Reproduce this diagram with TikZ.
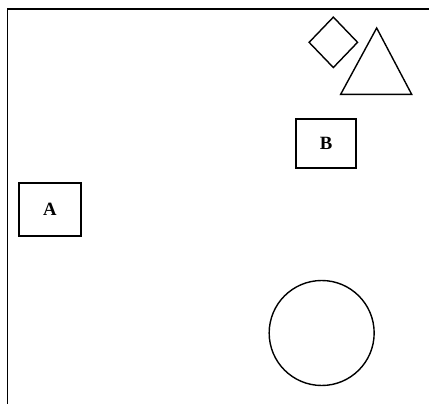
\documentclass[tikz,border=0pt]{standalone}
\usepackage{fontspec}
\setmainfont{Liberation Serif}
\usetikzlibrary{shapes.geometric}
\tikzset{
  labelbox/.style={draw, line width=1.2pt, inner sep=0pt, font=\fontsize{16}{18}\selectfont\bfseries},
  outline/.style={draw, line width=1.2pt, inner sep=0pt}
}
\begin{document}
\begin{tikzpicture}
        \useasboundingbox (0,0) rectangle (12.87,12.12);
        % frame
        \coordinate (corner) at (0.225,11.85);
        \coordinate (topend) at (12.87,11.85);
        \coordinate (leftend) at (0.225,0);
        \draw[line width=1.5pt] (topend) -- (corner) -- (leftend);
        % boxes
        \node[labelbox, minimum width=1.86cm, minimum height=1.59cm] (A) at (1.50,5.83) {A};
        \node[labelbox, minimum width=1.80cm, minimum height=1.47cm] (B) at (9.78,7.82) {B};
        % shapes
        \node[outline, diamond, minimum width=1.47cm, minimum height=1.53cm] (dia) at (10.0,10.85) {};
        \coordinate (apex) at (11.30,11.28);
        \coordinate (baseL) at (10.22,9.29);
        \coordinate (baseR) at (12.35,9.29);
        \draw[line width=1.2pt, line join=miter] (apex) -- (baseL) -- (baseR) -- cycle;
        \node[outline, circle, minimum size=3.15cm] (circ) at (9.65,2.13) {};
      \end{tikzpicture}
\end{document}
